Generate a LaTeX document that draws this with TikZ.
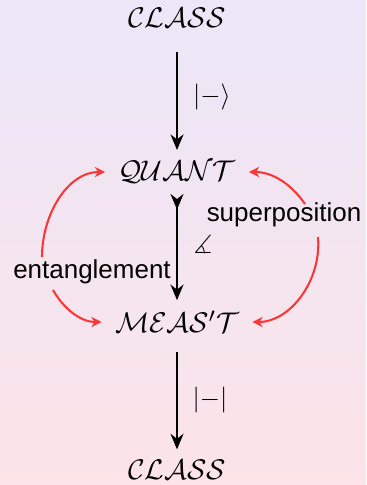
\documentclass[tikz,border=0pt]{standalone}
\usepackage{amsmath,amssymb}
\usepackage{fontspec}
\setmainfont{Liberation Sans}
\definecolor{bgtop}{RGB}{235,230,248}
\definecolor{bgbottom}{RGB}{252,228,232}
\definecolor{linkred}{RGB}{250,55,55}
\usetikzlibrary{arrows.meta,positioning,calc}

\begin{document}
\begin{tikzpicture}[x=0.385pt,y=-0.385pt,
    state/.style={inner sep=3pt, font=\fontsize{11}{13}\selectfont},
    mapto/.style={thick, -{Stealth[length=6pt,width=5pt]}},
    link/.style={linkred, thick, shorten >=2pt, -{Stealth[length=4pt,width=4pt]}},
    tag/.style={inner sep=0pt}]
    % background
    \shade[top color=bgtop, bottom color=bgbottom] (0,0) rectangle (366,485);
    \useasboundingbox (0,0) rectangle (366,485);
    % states
    \node[state] (clsA) at (177,18) {$\mathcal{CLASS}$};
    \node[state] (quant) at (177,172) {$\mathcal{QUANT}$};
    \node[state] (meas) at (177,322) {$\mathcal{MEAS'T}$};
    \node[state] (clsB) at (177,470) {$\mathcal{CLASS}$};
    % vertical maps
    \draw[mapto, shorten <=6pt, shorten >=1pt] (clsA) -- (quant);
    \draw[thick, {Stealth[length=6pt,width=5pt,reversed]}-{Stealth[length=6pt,width=5pt]}, shorten <=1pt, shorten >=1pt] (quant) -- (meas);
    \draw[mapto, shorten <=4pt, shorten >=1pt] (meas) -- (clsB);
    \node[tag] (ket) at (212,97) {$|{-}\rangle$};
    \node[tag] (ang) at (203,245) {$\measuredangle$};
    \node[tag] (abs) at (210,400) {$|{-}|$};
    % red links
    \coordinate (lu) at (42,257);
    \coordinate (ll) at (53,290);
    \coordinate (ru) at (305,204);
    \coordinate (rl) at (318,237);
    \draw[link] (lu) to[out=90, in=180] (quant.west);
    \draw[link] (ll) to[out=-60, in=180] (meas.west);
    \draw[link] (ru) to[out=125, in=0] (quant.east);
    \draw[link] (rl) to[out=-85, in=0] (meas.east);
    \node[tag] (ent) at (92,272) {entanglement};
    \node[tag] (sup) at (284,215) {superposition};
\end{tikzpicture}
\end{document}
